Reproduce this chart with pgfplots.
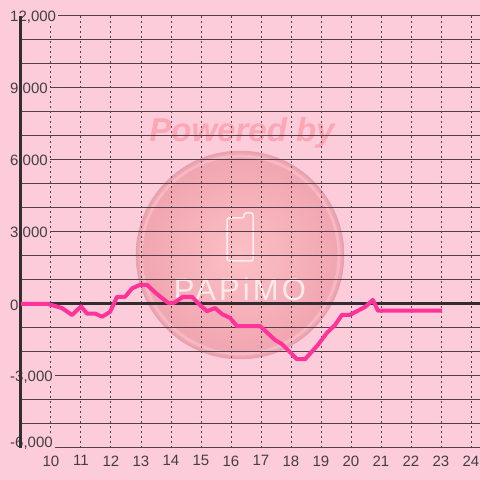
\documentclass[border=0pt]{standalone}
\usepackage{pgfplots}
\pgfplotsset{compat=1.18}
\usepackage{fontspec}
\setmainfont{Liberation Sans}
\definecolor{bg}{RGB}{252,204,218}
\definecolor{gridc}{RGB}{84,62,72}
\definecolor{axc}{RGB}{51,44,48}
\definecolor{linec}{RGB}{255,51,153}
\definecolor{txt}{RGB}{68,62,66}
\definecolor{wm}{RGB}{253,166,180}
\definecolor{sph}{RGB}{240,164,176}
\definecolor{sphin}{RGB}{252,192,198}
\definecolor{sphrim}{RGB}{228,162,176}
\definecolor{sphring}{RGB}{246,184,194}
\newcommand\negsix{-6,000}
\begin{document}
\begin{tikzpicture}[x=1pt,y=1pt]
\fill[bg] (0,0) rectangle (480,480);
\path[use as bounding box] (0,0) rectangle (480,480);
% watermark (background)
\shade[inner color=sphin, outer color=sph] (240,225) circle[radius=104];
\draw[sphring, line width=3pt] (240,225) circle[radius=99];
\draw[sphrim, line width=1.5pt] (240,225) circle[radius=103.5];
\draw[white!70!sphin, line width=1.5pt, rounded corners=2pt]
  (227,219) -- (227,262) -- (244,262) -- (244,267) -- (253,267) -- (253,219) -- cycle;
\node[text=white!65!sphin, font=\fontsize{31}{31}\selectfont\addfontfeature{LetterSpace=10}]
  at (240,191) {PAPiMO};
\node[text=wm, font=\fontsize{33}{33}\selectfont\bfseries\itshape]
  at (242,347) {Powered by};
\begin{axis}[
  at={(21pt,32pt)}, anchor=south west,
  scale only axis, width=459pt, height=432pt,
  xmin=9, xmax=24.3, ymin=-6000, ymax=12000,
  axis line style={draw=none},
  tick style={draw=none},
  xtick={10,...,24},
  ytick={-3000,0,...,12000},
  yticklabels={{-3,000},0,{3,000},{6,000},{9,000},{12,000}},
  extra y ticks={-6000},
  extra y tick labels={\negsix},
  extra y tick style={yticklabel style={yshift=6pt}},
  minor ytick={-5000,-4000,-2000,-1000,1000,2000,4000,5000,7000,8000,10000,11000},
  scaled y ticks=false,
  xmajorgrids, ymajorgrids, yminorgrids,
  major x grid style={draw=gridc, line width=1pt, dash pattern=on 2pt off 3pt},
  major y grid style={draw=gridc, line width=1pt, solid},
  minor y grid style={draw=gridc, line width=1pt, solid},
  /pgf/number format/assume math mode=true,
  ticklabel style={font=\fontsize{15}{15}\selectfont, text=txt},
  yticklabel style={anchor=west, xshift=-13pt, yshift=-1pt, fill=bg, inner sep=2pt},
  xticklabel style={yshift=-4pt},
  clip=false,
]
\draw[axc, line width=3pt] (axis cs:9,-6000) -- (axis cs:9,12000);
\draw[axc, line width=3pt] (axis cs:9,0) -- (axis cs:24.3,0);
\addplot[linec, line width=4pt, line join=round, no marks] coordinates {
(9,0) (9.9,0) (10.37,-170) (10.7,-460) (11.0,-100) (11.2,-400) (11.47,-400)
(11.7,-530) (11.97,-330) (12.2,300) (12.47,300) (12.7,650) (12.97,800)
(13.2,800) (13.5,450) (13.9,50) (14.1,50) (14.4,300) (14.7,300) (14.97,-50)
(15.2,-300) (15.47,-170) (15.7,-420) (15.97,-580) (16.2,-920) (16.97,-920)
(17.47,-1500) (17.7,-1670) (18.2,-2300) (18.47,-2300) (18.9,-1700)
(19.2,-1200) (19.47,-870) (19.7,-450) (19.97,-450) (20.23,-280)
(20.47,-120) (20.73,170) (20.9,-280) (23.03,-280)
};
\end{axis}
\end{tikzpicture}
\end{document}
